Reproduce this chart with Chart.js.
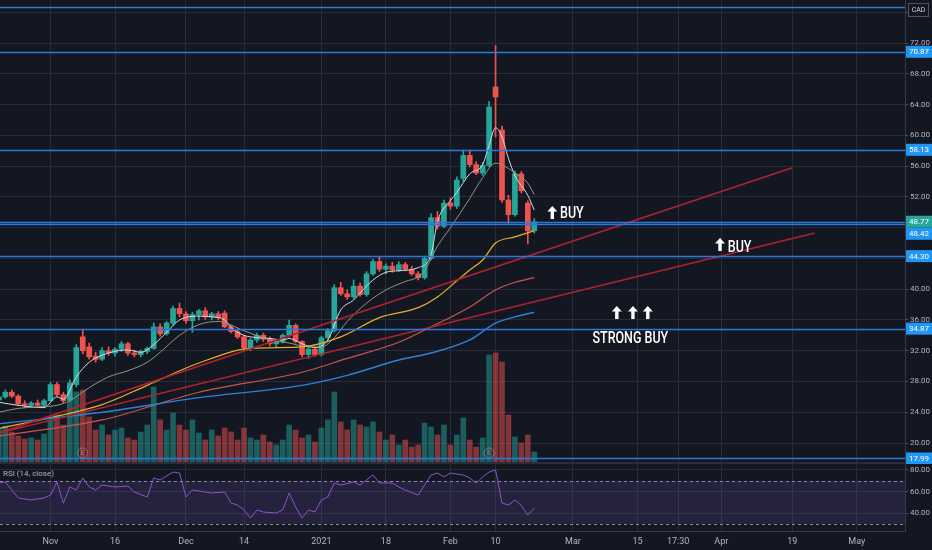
<!DOCTYPE html>
<html>
<head>
<meta charset="utf-8">
<script src="https://cdn.jsdelivr.net/npm/chart.js@4.4.1/dist/chart.umd.min.js"></script>
<style>
  html, body { margin: 0; padding: 0; background: #131722; }
  #wrap { position: relative; width: 932px; height: 550px; overflow: hidden; background: #131722; }
  #priceCv { position: absolute; left: 0; top: 0; }
  #rsiCv { position: absolute; left: 0; top: 464px; }
</style>
</head>
<body>
<div id="wrap">
  <canvas id="priceCv" width="932" height="464"></canvas>
  <canvas id="rsiCv" width="932" height="86"></canvas>
</div>
<script>
// daily candles, bar index 0 = Nov 2 2020
const firstBar = -8;
const opens  = [25.6,26.0,26.6,26.1,25.1,24.9,25.2,24.9, 25.5,27.6,26.3,25.6,27.6,33.8,32.5,31.3,30.9,32.0,
                31.7,32.2,32.9,31.7,31.5,31.9,32.3,35.1,34.2,35.6,37.5,36.8,35.9,36.7,37.2,36.4,36.8,36.9,
                35.1,34.5,33.8,32.4,33.4,34.0,33.5,32.9,33.2,34.0,35.3,33.2,31.5,32.2,31.5,33.7,34.6,40.2,
                39.4,39.0,40.4,39.3,42.0,43.6,42.6,43.0,42.5,43.2,42.6,42.0,41.5,44.0,49.3,48.2,51.2,50.8,
                54.4,57.4,56.2,55.1,56.1,66.3,60.7,51.6,49.7,55.0,51.2,47.6];
const highs  = [26.3,26.9,26.9,26.3,25.5,25.4,25.6,25.7, 27.9,27.9,26.6,28.2,32.8,34.8,33.0,31.8,32.4,32.5,
                32.4,33.2,33.1,32.1,32.1,32.5,35.6,35.5,35.8,37.8,38.2,37.1,37.0,37.4,37.6,37.0,37.1,37.2,
                35.3,34.8,34.0,33.6,34.3,34.3,33.8,33.4,34.2,36.0,35.5,33.3,32.5,32.4,33.9,34.9,40.6,40.9,
                39.9,41.2,40.8,42.3,43.9,44.2,43.3,43.5,43.6,43.5,43.0,42.3,44.3,49.8,50.1,51.6,51.9,54.6,
                58.1,58.1,56.6,56.5,64.4,71.7,61.2,52.2,55.4,55.3,51.5,49.2];
const lows   = [25.2,25.8,25.9,24.9,24.6,24.6,24.7,24.7, 25.4,26.1,25.2,25.4,27.3,31.6,30.9,30.5,30.7,31.4,
                31.3,31.9,31.4,31.2,31.2,31.6,32.2,33.9,34.0,35.3,36.4,35.6,34.4,36.0,36.1,36.0,36.0,35.0,
                34.3,33.6,32.2,32.0,33.1,33.2,32.6,32.5,33.0,33.8,33.0,31.2,31.0,31.3,31.3,33.5,34.4,39.2,
                38.7,38.8,39.1,39.1,41.8,42.3,42.0,42.2,42.3,42.4,41.8,41.2,41.3,43.8,47.8,48.0,50.4,50.5,
                54.0,55.9,54.9,54.8,55.9,59.8,51.3,48.6,49.5,52.5,45.9,47.3];
const closes = [26.0,26.6,26.1,25.1,24.9,25.2,24.9,25.5, 27.6,26.3,25.5,27.8,32.4,32.0,31.2,30.9,32.0,31.7,
                32.2,32.9,31.7,31.5,31.9,32.3,35.1,34.2,35.6,37.5,36.8,35.9,36.7,37.2,36.4,36.8,36.3,35.1,
                34.5,33.8,32.4,33.4,34.0,33.5,32.9,33.2,34.0,35.3,33.2,31.5,32.2,31.5,33.7,34.6,40.2,39.4,
                39.0,40.4,39.3,42.0,43.6,42.6,43.0,42.5,43.2,42.6,42.0,41.5,44.0,49.3,48.2,51.2,50.8,54.2,
                57.4,56.2,55.1,56.1,63.7,65.0,51.6,49.7,55.0,52.8,47.6,48.77];
// volume, thousands of shares
const volumes = [700,760,640,560,500,520,480,600, 880,980,780,1380,1440,1480,940,680,780,580,
                 680,720,520,480,640,780,1540,880,680,1020,780,680,880,620,480,680,560,720,
                 640,480,720,520,480,580,440,380,480,780,680,520,580,440,720,880,1440,840,
                 680,880,780,740,840,640,480,580,380,480,340,380,820,740,580,780,380,580,
                 920,480,340,520,2180,2220,2040,980,540,420,580,240];
const earningsBars = [5, 68];

// moving averages: [bar index] / [price]
const maFastIdx = [-8,-5,-1,1,2,4,6,9,12,14,16,18,20,23,25,27,28,30,31,34,36,37,39,41,43,45,47,48,50,52,
                   54,57,59,60,62,63,65,67,68,69,70,71,72,74,75];
const maFastVal = [25.3,24.9,24.6,26.0,25.7,28.6,30.5,31.7,32.1,31.8,32.8,34.4,36.0,36.5,36.4,36.0,35.0,34.0,
                   33.8,33.6,33.4,33.6,32.9,32.4,33.4,37.3,38.6,39.5,41.2,42.2,42.4,42.8,44.5,48.8,51.5,52.6,
                   55.0,56.2,58.7,61.0,59.8,57.0,54.8,52.2,50.3];
const maMidIdx = [-8,-5,-2,1,3,6,9,12,15,17,20,23,26,30,34,37,40,42,44,46,49,52,55,57,58,60,62,65,67,69,71,72,74,75];
const maMidVal = [24.0,24.5,24.7,24.9,25.5,27.2,28.6,29.4,30.5,31.8,34.0,35.4,35.8,34.6,33.4,33.0,32.5,32.5,
                  33.7,35.8,38.2,39.9,41.0,41.6,42.4,45.6,48.0,51.8,54.5,56.4,55.7,55.1,53.8,52.3];
const ma50Idx = [-8,0,8,15,23,31,39,45,51,57,60,63,65,67,69,72,75];
const ma50Val = [21.9,23.3,25.0,27.5,30.4,32.3,32.5,33.8,36.3,37.6,39.0,41.1,42.5,43.8,46.0,46.8,47.6];
const ma100Idx = [-8,8,23,39,46,54,59,65,69,72,75];
const ma100Val = [20.9,23.0,26.6,29.2,31.0,33.1,35.1,37.7,39.9,40.9,41.5];
const ma200Idx = [-8,8,23,39,46,54,59,65,69,72,75];
const ma200Val = [22.5,24.0,25.9,27.5,28.8,30.8,31.7,33.4,35.6,36.4,37.0];

// drawn trend lines
const trendUpperIdx = [-8, 115];
const trendUpperVal = [21.3, 55.8];
const trendLowerIdx = [-8, 118.5];
const trendLowerVal = [21.3, 47.3];

// horizontal levels
const levelPrices   = [76.70, 70.87, 58.13, 48.77, 48.42, 44.30, 34.87, 17.99];
const levelLabelled = [false, true, true, true, true, true, true, true];
const lastPrice = 48.77;

// RSI (14, close)
const rsiIdx = [-8,-7,-5,-3,-1,0,1,2,3,4,5,6,7,8,10,12,13,15,16,17,19,20,21,22,24,25,27,28,29,30,31,32,33,35,36,
                37,38,39,40,41,42,43,44,45,47,48,50,51,53,54,55,57,58,59,60,61,62,64,65,66,67,68,69,70,71,72,73,74,75];
const rsiVal = [67.9,68.8,54.0,52.1,54.0,56.7,68.8,49.0,64.2,61.4,72.6,64.2,61.4,66.0,64.2,65.1,59.5,54.9,72.6,
                70.7,78.1,77.2,54.9,61.4,59.5,58.6,59.5,49.3,47.4,42.8,35.3,42.8,40.9,40.0,42.8,58.6,45.6,35.3,
                42.8,41.0,52.1,54.9,67.9,66.0,68.8,66.0,75.3,67.9,67.9,64.2,61.4,56.7,66.0,75.3,77.2,73.5,77.2,
                75.3,72.6,67.9,73.5,78.1,80.0,49.3,47.4,52.1,47.0,38.1,44.7];
const rsiTicks = [40, 60, 80];
const rsiUpper = 70, rsiLower = 30;

// axes
const tickIdx    = [0, 10, 21, 30, 42, 52, 62, 69, 81, 91, 97.3, 104, 115, 125];
const tickLabels = ['Nov','16','Dec','14','2021','18','Feb','10','Mar','15','17:30','Apr','19','May'];
const priceTicks = [20,24,28,32,36,40,44,48,52,56,60,64,68,72,76];

// text notes on the chart
const noteText  = ['BUY', 'BUY', 'STRONG BUY'];
const noteIdx   = [79.0, 105.0, 89.9];
const notePrice = [49.9, 45.5, 33.65];
const noteAlign = ['left', 'left', 'center'];
const arrowIdx   = [77.8, 103.8, 87.8, 90.3, 92.6];
const arrowPrice = [49.9, 45.75, 36.9, 36.9, 36.9];

// --- layout constants ---
const X_MIN = -7.83, X_MAX = 132.48;
const P_MIN = 17.27, P_MAX = 77.61;
const VOL_MAX = 9280;
const R_MIN = 23.26, R_MAX = 85.58;
const GRID = '#282c37';
const AXIS_TXT = '#b2b5be';
const UP = '#26a69a', DOWN = '#ef5350';
const LEVEL = '#2c78dc';
const NOTE_FONT = "500 16px Roboto, sans-serif";

const isUp = k => closes[k] >= opens[k];
const pts = (xs, ys) => xs.map((x, k) => ({ x, y: ys[k] }));

function xAxis(showLabels) {
  return {
    type: 'linear', min: X_MIN, max: X_MAX, offset: false,
    afterBuildTicks: s => { s.ticks = tickIdx.map(v => ({ value: v })); },
    ticks: { display: showLabels, autoSkip: false, maxRotation: 0, padding: 5, color: AXIS_TXT,
             font: { family: 'Roboto', size: 9 }, callback: (v, i) => tickLabels[i] },
    grid: { color: GRID, drawTicks: false, offset: false },
    border: { display: showLabels, color: '#363a45' },
    afterFit: s => { s.height = showLabels ? 19 : 0; s.paddingLeft = 0; s.paddingRight = 0; }
  };
}

// right-hand value axis with fixed width and no label overhang
function valueAxis(min, max, ticks, fmt) {
  return {
    type: 'linear', position: 'right', min, max,
    afterBuildTicks: s => { s.ticks = ticks.map(v => ({ value: v })); },
    ticks: { autoSkip: false, padding: 2, color: AXIS_TXT, font: { family: 'Roboto', size: 8 }, callback: fmt },
    grid: { color: GRID, tickColor: '#50535e', tickLength: 3 },
    border: { color: '#363a45' },
    afterFit: s => { s.width = 27; s.paddingTop = 0; s.paddingBottom = 0; }
  };
}

function hideTick(v) {
  return levelPrices.some(p => Math.abs(p - v) < 0.8);
}

function drawArrow(ctx, cx, cy) {
  ctx.beginPath();
  ctx.moveTo(cx, cy - 7);
  ctx.lineTo(cx + 5, cy - 1.5);
  ctx.lineTo(cx + 1.7, cy - 1.5);
  ctx.lineTo(cx + 1.7, cy + 6);
  ctx.lineTo(cx - 1.7, cy + 6);
  ctx.lineTo(cx - 1.7, cy - 1.5);
  ctx.lineTo(cx - 5, cy - 1.5);
  ctx.closePath();
  ctx.fill();
}

const pricePlugin = {
  id: 'priceExtras',
  afterDatasetsDraw(chart) {
    const { ctx, chartArea: a, scales: { x, y } } = chart;
    ctx.save();
    ctx.beginPath(); ctx.rect(a.left, a.top, a.width, a.height); ctx.clip();

    // earnings markers
    ctx.strokeStyle = 'rgba(200,150,160,0.55)'; ctx.fillStyle = 'rgba(200,150,160,0.7)';
    ctx.lineWidth = 1; ctx.font = '7px Roboto'; ctx.textAlign = 'center'; ctx.textBaseline = 'middle';
    earningsBars.forEach(i => {
      const cx = x.getPixelForValue(i), cy = a.bottom - 11;
      ctx.beginPath(); ctx.arc(cx, cy, 5, 0, Math.PI * 2); ctx.stroke();
      ctx.fillText('E', cx, cy + 0.5);
    });

    // horizontal levels
    ctx.strokeStyle = LEVEL; ctx.lineWidth = 1.3;
    levelPrices.forEach(p => {
      const py = Math.round(y.getPixelForValue(p)) + 0.5;
      ctx.beginPath(); ctx.moveTo(a.left, py); ctx.lineTo(a.right, py); ctx.stroke();
    });

    // notes (narrowed horizontally to match the condensed face)
    ctx.fillStyle = '#ffffff';
    arrowIdx.forEach((i, k) => drawArrow(ctx, x.getPixelForValue(i), y.getPixelForValue(arrowPrice[k])));
    ctx.font = NOTE_FONT; ctx.textBaseline = 'middle';
    noteText.forEach((t, k) => {
      ctx.save();
      ctx.translate(x.getPixelForValue(noteIdx[k]), y.getPixelForValue(notePrice[k]) + 1);
      ctx.scale(0.78, 1);
      ctx.textAlign = noteAlign[k];
      ctx.fillText(t, 0, 0);
      ctx.restore();
    });
    ctx.restore();
  },
  afterDraw(chart) {
    const { ctx, chartArea: a, scales: { y } } = chart;
    ctx.save();
    // pane separator
    ctx.strokeStyle = '#2a2e39'; ctx.lineWidth = 2;
    ctx.beginPath(); ctx.moveTo(0, a.bottom - 1); ctx.lineTo(chart.width, a.bottom - 1); ctx.stroke();

    // price labels on the axis
    const boxes = levelPrices
      .map((p, k) => ({ p, y: y.getPixelForValue(p), show: levelLabelled[k] }))
      .filter(b => b.show).sort((m, n) => m.y - n.y);
    for (let k = 1; k < boxes.length; k++) {
      if (boxes[k].y - boxes[k - 1].y < 12) boxes[k].y = boxes[k - 1].y + 12;
    }
    ctx.font = '8px Roboto'; ctx.textBaseline = 'middle'; ctx.textAlign = 'left';
    boxes.forEach(b => {
      ctx.fillStyle = b.p === lastPrice ? UP : '#2196f3';
      ctx.fillRect(a.right + 1, b.y - 6, chart.width - a.right - 1, 12);
      ctx.fillStyle = '#ffffff';
      ctx.fillText(b.p.toFixed(2), a.right + 4, b.y + 0.5);
    });

    // currency tag
    ctx.fillStyle = '#131722'; ctx.strokeStyle = '#50535e'; ctx.lineWidth = 1;
    ctx.fillRect(908.5, 3.5, 20, 13); ctx.strokeRect(908.5, 3.5, 20, 13);
    ctx.fillStyle = '#d1d4dc'; ctx.font = '7px Roboto'; ctx.textAlign = 'center';
    ctx.fillText('CAD', 918.5, 10.5);
    ctx.restore();
  }
};

const rsiPlugin = {
  id: 'rsiBand',
  beforeDatasetsDraw(chart) {
    const { ctx, chartArea: a, scales: { y } } = chart;
    const yU = y.getPixelForValue(rsiUpper), yL = y.getPixelForValue(rsiLower);
    ctx.save();
    ctx.fillStyle = 'rgba(126,87,194,0.17)';
    ctx.fillRect(a.left, yU, a.width, yL - yU);
    ctx.strokeStyle = '#8a8d96'; ctx.lineWidth = 1; ctx.setLineDash([3, 3]);
    [yU, yL].forEach(py => {
      ctx.beginPath(); ctx.moveTo(a.left, Math.round(py) + 0.5); ctx.lineTo(a.right, Math.round(py) + 0.5); ctx.stroke();
    });
    ctx.restore();
  },
  afterDraw(chart) {
    const { ctx, chartArea: a } = chart;
    ctx.save();
    ctx.font = '8px Roboto'; ctx.fillStyle = AXIS_TXT; ctx.textBaseline = 'middle';
    ctx.fillText('RSI (14, close)', 3, a.top + 10);
    ctx.restore();
  }
};

const barIdx = opens.map((o, k) => firstBar + k);
const candleColors = opens.map((o, k) => isUp(k) ? UP : DOWN);
const volColors = opens.map((o, k) => isUp(k) ? 'rgba(38,166,154,0.5)' : 'rgba(239,83,80,0.5)');

function maLine(xs, ys, color, width) {
  return { type: 'line', data: pts(xs, ys), borderColor: color, borderWidth: width, pointRadius: 0,
           cubicInterpolationMode: 'monotone', yAxisID: 'y', order: 2 };
}

new Chart(document.getElementById('priceCv'), {
  type: 'bar',
  data: {
    datasets: [
      { data: barIdx.map((x, k) => ({ x, y: volumes[k] })), yAxisID: 'yVol', backgroundColor: volColors,
        barThickness: 5, grouped: false, order: 10 },
      { data: barIdx.map((x, k) => ({ x, y: [lows[k], highs[k]] })), yAxisID: 'y', backgroundColor: candleColors,
        barThickness: 1, grouped: false, order: 5 },
      { data: barIdx.map((x, k) => ({ x, y: [opens[k], closes[k]] })), yAxisID: 'y', backgroundColor: candleColors,
        barThickness: 5, grouped: false, minBarLength: 1, order: 4 },
      maLine(ma200Idx, ma200Val, '#2f80d6', 1.4),
      maLine(ma100Idx, ma100Val, '#c8564b', 1.2),
      maLine(ma50Idx, ma50Val, '#e3b12a', 1.2),
      maLine(maMidIdx, maMidVal, '#8d9a7c', 1),
      maLine(maFastIdx, maFastVal, '#d8dae0', 1),
      { type: 'line', data: pts(trendUpperIdx, trendUpperVal), borderColor: '#b0232f', borderWidth: 1.5,
        pointRadius: 0, yAxisID: 'y', order: 1 },
      { type: 'line', data: pts(trendLowerIdx, trendLowerVal), borderColor: '#b0232f', borderWidth: 1.5,
        pointRadius: 0, yAxisID: 'y', order: 1 }
    ]
  },
  options: {
    responsive: false, animation: false, events: [],
    layout: { padding: 0 },
    plugins: { legend: { display: false }, tooltip: { enabled: false } },
    scales: {
      x: xAxis(false),
      y: valueAxis(P_MIN, P_MAX, priceTicks, v => hideTick(v) ? '' : v.toFixed(2)),
      yVol: { type: 'linear', display: false, min: 0, max: VOL_MAX }
    }
  },
  plugins: [pricePlugin]
});

new Chart(document.getElementById('rsiCv'), {
  type: 'line',
  data: {
    datasets: [{ data: pts(rsiIdx, rsiVal), borderColor: '#9251c9', borderWidth: 1, pointRadius: 0 }]
  },
  options: {
    responsive: false, animation: false, events: [],
    layout: { padding: 0 },
    plugins: { legend: { display: false }, tooltip: { enabled: false } },
    scales: {
      x: xAxis(true),
      y: valueAxis(R_MIN, R_MAX, rsiTicks, v => v.toFixed(2))
    }
  },
  plugins: [rsiPlugin]
});
</script>
</body>
</html>
